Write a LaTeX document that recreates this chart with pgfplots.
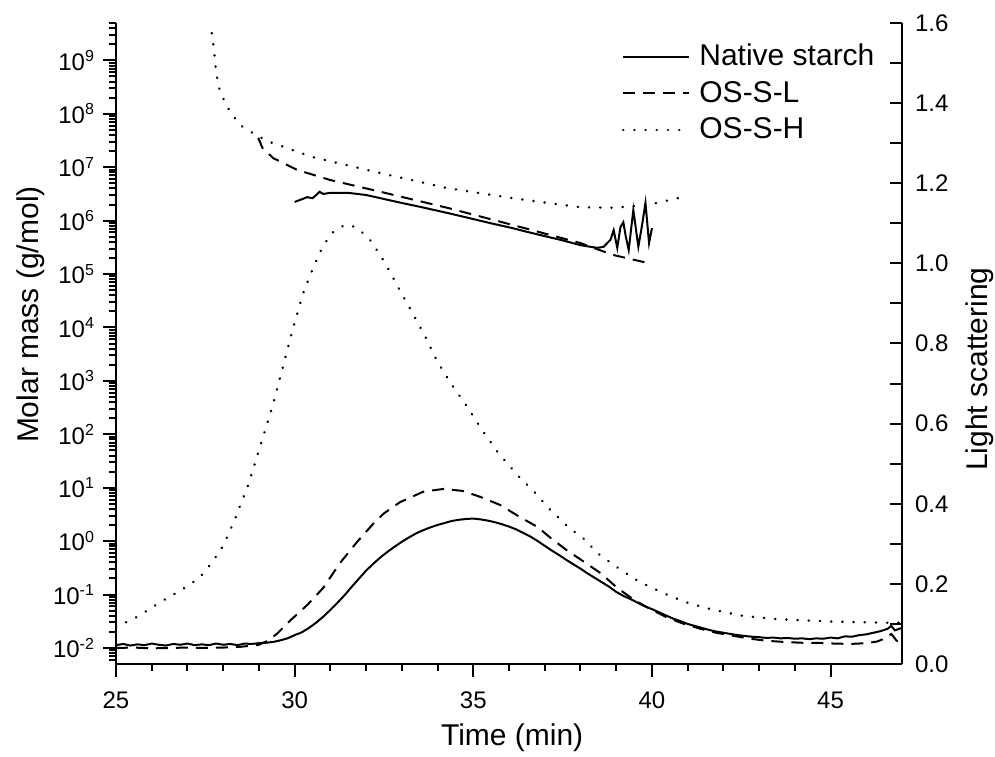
\documentclass[border=0pt]{standalone}
\usepackage{fontspec}
\setmainfont{Liberation Sans}
\usepackage{pgfplots}
\pgfplotsset{compat=1.18}

\pgfplotstableread{
t ls
25.0 0.047
25.2 0.050
25.4 0.046
25.6 0.049
25.8 0.047
26.0 0.051
26.2 0.048
26.4 0.046
26.6 0.050
26.8 0.048
27.0 0.051
27.2 0.047
27.4 0.049
27.6 0.047
27.8 0.051
28.0 0.048
28.2 0.050
28.4 0.047
28.6 0.051
28.8 0.050
29.0 0.052
29.2 0.053
29.4 0.055
29.6 0.059
29.8 0.064
30.0 0.072
30.2 0.079
30.4 0.090
30.6 0.103
30.8 0.118
31.0 0.135
31.2 0.153
31.4 0.172
31.6 0.193
31.8 0.213
32.0 0.233
32.2 0.250
32.4 0.266
32.6 0.280
32.8 0.293
33.0 0.305
33.2 0.316
33.4 0.326
33.6 0.334
33.8 0.341
34.0 0.347
34.2 0.352
34.4 0.357
34.6 0.360
34.8 0.362
35.0 0.363
35.2 0.361
35.4 0.358
35.6 0.354
35.8 0.349
36.0 0.343
36.2 0.336
36.4 0.327
36.6 0.318
36.8 0.307
37.0 0.295
37.2 0.283
37.4 0.272
37.6 0.260
37.8 0.249
38.0 0.238
38.2 0.226
38.4 0.215
38.6 0.204
38.8 0.193
39.0 0.180
39.2 0.170
39.4 0.162
39.6 0.153
39.8 0.144
40.0 0.137
40.2 0.129
40.4 0.121
40.6 0.113
40.8 0.107
41.0 0.100
41.2 0.095
41.4 0.090
41.6 0.085
41.8 0.081
42.0 0.078
42.2 0.075
42.4 0.072
42.6 0.070
42.8 0.068
43.0 0.067
43.2 0.065
43.4 0.066
43.6 0.064
43.8 0.065
44.0 0.063
44.2 0.064
44.4 0.062
44.6 0.064
44.8 0.063
45.0 0.066
45.2 0.064
45.4 0.069
45.6 0.068
45.8 0.072
46.0 0.074
46.2 0.078
46.4 0.082
46.6 0.088
46.7 0.095
46.8 0.084
47.0 0.090
}\nativeLS

\pgfplotstableread{
t ls
25.0 0.040
25.5 0.041
26.0 0.039
26.5 0.040
27.0 0.041
27.5 0.040
28.0 0.041
28.5 0.043
29.0 0.048
29.25 0.058
29.5 0.075
29.87 0.108
30.35 0.147
30.8 0.190
31.27 0.252
31.75 0.305
32.2 0.350
32.5 0.376
32.95 0.404
33.6 0.430
34.17 0.437
34.7 0.432
35.2 0.417
35.75 0.397
36.3 0.367
36.8 0.342
37.16 0.315
37.6 0.285
38.1 0.255
38.56 0.227
39.03 0.190
39.5 0.160
40.0 0.135
40.45 0.115
40.9 0.100
41.35 0.088
41.8 0.078
42.3 0.070
42.76 0.063
43.2 0.058
43.7 0.055
44.2 0.053
44.6 0.053
45.1 0.051
45.56 0.050
46.0 0.052
46.3 0.056
46.5 0.063
46.7 0.075
46.85 0.058
47.0 0.050
}\oslLS

\pgfplotstableread{
t ls
25.0 0.092
25.3 0.105
25.6 0.118
25.9 0.135
26.2 0.152
26.5 0.168
26.8 0.183
27.1 0.200
27.4 0.222
27.7 0.255
28.0 0.295
28.3 0.355
28.7 0.447
29.03 0.542
29.37 0.640
29.65 0.734
29.93 0.830
30.24 0.926
30.5 0.985
30.8 1.045
31.1 1.080
31.35 1.093
31.55 1.096
31.8 1.085
32.1 1.060
32.4 1.020
32.6 0.990
32.9 0.940
33.3 0.876
33.66 0.816
34.0 0.754
34.4 0.697
34.83 0.642
35.25 0.584
35.7 0.527
36.23 0.472
36.7 0.430
37.16 0.384
37.66 0.342
38.1 0.312
38.5 0.275
39.0 0.243
39.5 0.213
40.0 0.190
40.5 0.170
41.0 0.153
41.5 0.140
42.0 0.130
42.5 0.121
43.0 0.116
43.5 0.112
44.0 0.110
44.5 0.108
45.0 0.106
45.5 0.105
46.0 0.104
46.5 0.103
47.0 0.103
}\oshLS

\pgfplotstableread{
t mw
30.0 2.24e6
30.2 2.51e6
30.35 2.75e6
30.5 2.63e6
30.6 3.0e6
30.7 3.47e6
30.8 3.16e6
31.0 3.31e6
31.5 3.31e6
32.0 3.02e6
32.4 2.63e6
33.0 2.14e6
33.5 1.82e6
34.3 1.38e6
35.0 1.07e6
35.5 8.9e5
36.1 7.24e5
36.5 6.17e5
37.0 5.13e5
37.5 4.27e5
38.0 3.47e5
38.47 3.09e5
38.65 3.24e5
38.75 3.80e5
38.84 4.37e5
38.93 6.61e5
39.03 3.09e5
39.12 7.59e5
39.2 9.33e5
39.27 5.0e5
39.35 2.82e5
39.48 1.58e6
39.62 3.24e5
39.72 7.9e5
39.82 2.14e6
39.92 3.80e5
40.0 7.24e5
}\nativeMW

\pgfplotstableread{
t mw
28.98 3.55e7
29.1 2.29e7
29.4 1.48e7
30.07 8.9e6
31.0 5.75e6
32.4 3.47e6
34.27 1.74e6
36.1 8.3e5
38.0 3.8e5
38.9 2.29e5
39.87 1.62e5
}\oslMW

\pgfplotstableread{
t mw
27.68 3.24e9
27.73 1.82e9
27.77 1.02e9
27.8 6.17e8
27.87 3.24e8
28.0 1.95e8
28.19 1.10e8
28.47 6.17e7
28.85 4.27e7
29.27 3.02e7
30.5 1.55e7
32.4 7.76e6
34.27 4.07e6
36.1 2.63e6
38.0 1.78e6
38.9 1.74e6
39.87 1.95e6
40.85 2.75e6
}\oshMW

\tikzset{
  solidc/.style={black, line width=1pt},
  dashc/.style={black, line width=1pt, dash pattern=on 6pt off 4pt},
  dotc/.style={black, line width=1.3pt, line cap=round, dash pattern=on 0.1pt off 5.5pt},
}

\begin{document}
\begin{tikzpicture}
\pgfplotsset{
  every axis/.append style={
    scale only axis, width=393pt, height=320.5pt,
    xmin=25, xmax=47,
    /pgf/number format/assume math mode=true,
    axis line style={line width=1pt},
    every tick/.style={black, line width=1pt},
    tick label style={font=\fontsize{12}{14}\selectfont},
    label style={font=\fontsize{15}{18}\selectfont},
  }
}
\begin{axis}[
  ymode=log,
  ymin=5.0119e-3, ymax=5.0119e9,
  axis x line*=bottom, axis y line*=left,
  tick align=outside,
  major tick length=6.5pt, minor tick length=3.5pt,
  xtick={25,30,35,40,45}, minor x tick num=4,
  ytickten={-2,...,9},
  yticklabels={10\textsuperscript{-2},10\textsuperscript{-1},10\textsuperscript{0},10\textsuperscript{1},10\textsuperscript{2},10\textsuperscript{3},10\textsuperscript{4},10\textsuperscript{5},10\textsuperscript{6},10\textsuperscript{7},10\textsuperscript{8},10\textsuperscript{9}},
  minor ytick={6e-3,7e-3,8e-3,9e-3,
    2e-2,3e-2,4e-2,5e-2,6e-2,7e-2,8e-2,9e-2,
    2e-1,3e-1,4e-1,5e-1,6e-1,7e-1,8e-1,9e-1,
    2,3,4,5,6,7,8,9,
    20,30,40,50,60,70,80,90,
    200,300,400,500,600,700,800,900,
    2e3,3e3,4e3,5e3,6e3,7e3,8e3,9e3,
    2e4,3e4,4e4,5e4,6e4,7e4,8e4,9e4,
    2e5,3e5,4e5,5e5,6e5,7e5,8e5,9e5,
    2e6,3e6,4e6,5e6,6e6,7e6,8e6,9e6,
    2e7,3e7,4e7,5e7,6e7,7e7,8e7,9e7,
    2e8,3e8,4e8,5e8,6e8,7e8,8e8,9e8,
    2e9,3e9,4e9,5e9},
  xlabel={Time (min)},
  ylabel={Molar mass (g/mol)},
  xlabel style={at={(axis description cs:0.504,-0.115)}, anchor=center},
  ylabel style={at={(axis description cs:-0.108,0.545)}, anchor=center},
  xticklabel style={yshift=-4pt},
  yticklabel style={xshift=-0.5pt},
]
\addplot[solidc] table[x=t,y=mw] {\nativeMW};
\addplot[dashc] table[x=t,y=mw] {\oslMW};
\addplot[dotc] table[x=t,y=mw] {\oshMW};
\end{axis}
\begin{axis}[
  ymin=0, ymax=1.6,
  axis x line=none, axis y line*=right,
  tick align=inside,
  major tick length=6pt, minor tick length=6pt,
  ytick={0,0.2,...,1.6}, minor y tick num=1,
  yticklabel style={xshift=3pt, /pgf/number format/.cd, fixed, fixed zerofill, precision=1},
  ylabel={Light scattering},
  ylabel style={at={(axis description cs:1.099,0.46)}, anchor=center, rotate=0},
  legend image code/.code={\draw[#1] (0pt,0pt) -- (33pt,0pt);},
  legend cell align=left,
  legend style={draw=none, fill=none, at={(rel axis cs:0.643,0.968)}, anchor=north west,
    inner sep=0pt, row sep=5.25pt, column sep=4.5pt, font=\fontsize{15}{18}\selectfont,
    nodes={inner sep=0pt, text height=11pt, text depth=2pt}},
]
\addplot[solidc] table[x=t,y=ls] {\nativeLS};
\addlegendentry{Native starch}
\addplot[dashc] table[x=t,y=ls] {\oslLS};
\addlegendentry{OS-S-L}
\addplot[dotc] table[x=t,y=ls] {\oshLS};
\addlegendentry{OS-S-H}
\coordinate (bl) at (rel axis cs:0,0);
\coordinate (tr) at (rel axis cs:1,1);
\end{axis}
\pgfresetboundingbox
\path ([shift={(-58pt,-46.5pt)}]bl) rectangle ([shift={(46.5pt,11.5pt)}]tr);
\end{tikzpicture}
\end{document}
